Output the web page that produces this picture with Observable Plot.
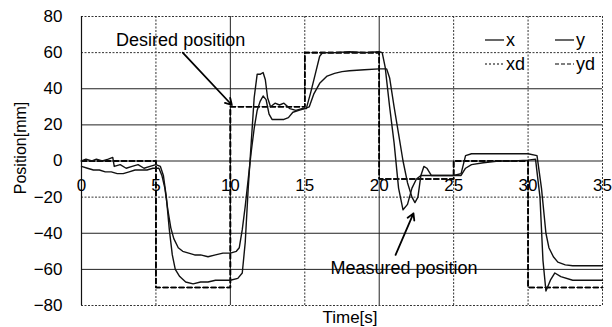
<!DOCTYPE html>
<html>
<head>
<meta charset="utf-8">
<script src="https://cdn.jsdelivr.net/npm/d3@7"></script>
<script src="https://cdn.jsdelivr.net/npm/@observablehq/plot@0.6"></script>
<style>
  html, body { margin: 0; padding: 0; background: #fff; }
  #wrap { position: relative; width: 612px; height: 327px; font-family: "Liberation Sans", Arial, sans-serif; }
  #legend { position: absolute; left: 0; top: 0; width: 612px; height: 327px; pointer-events: none; }
</style>
</head>
<body>
<div id="wrap"></div>
<script>
// ---- data ----
const xTicks = [0, 5, 10, 15, 20, 25, 30, 35];
const yTicks = [-80, -60, -40, -20, 0, 20, 40, 60, 80];
const yGridSolid = [40, 20, 0, -40, -60];
const yGridDotted = [80, 60, -20, -80];
const xGridSolid = [10, 20];
const xGridDotted = [5, 15, 25, 30, 35];

// measured x
const tX = [0,0.3,0.7,1.0,1.4,1.8,2.1,2.2,2.6,3.0,3.4,3.8,4.2,4.6,5.0,5.3,5.5,5.7,5.9,6.1,6.3,6.6,7.0,7.5,8.0,8.5,9.0,9.5,10.0,10.5,10.8,11.0,11.2,11.4,11.6,11.8,12.0,12.2,12.35,12.5,12.7,13.0,13.3,13.6,14.0,14.4,14.8,15.1,15.4,15.7,16.0,16.2,17,18,19,20,20.2,20.4,20.7,21.0,21.3,21.6,21.9,22.2,22.5,22.8,23.3,24,25,25.5,25.8,26.2,27,28,29,30,30.5,30.8,31.0,31.2,31.5,31.8,32.2,33,34,35];
const vX = [0,1,0,1,0,1,2,-3,-2,-4,-3,-2,-4,-3,-2,-3,-8,-20,-38,-52,-60,-64,-67,-68,-67,-67,-66,-66,-66,-65,-62,-45,-15,10,35,48,48,49,45,35,30,32,31,32,29,28,29,29,38,48,58,60,60,60.5,60,60.5,60,52,30,10,-15,-27,-24,-15,-10,-8,-8,-8,-8,-8,-4,-2,-1,0,0,0.5,1,-20,-55,-72,-66,-62,-64,-66,-66,-66];

// measured y
const tY = [0,0.4,0.8,1.2,1.6,2.0,2.4,2.8,3.2,3.6,4.0,4.4,4.8,5.2,5.4,5.6,5.8,6.0,6.2,6.5,6.8,7.2,7.6,8.0,8.5,9.0,9.5,10.0,10.4,10.6,10.8,11.0,11.2,11.4,11.6,11.8,12.0,12.2,12.4,12.6,12.8,13.2,13.6,13.9,14.2,14.6,15.0,15.3,15.6,16.0,16.5,17.0,17.5,18.0,19.0,20.0,20.5,20.7,21.0,21.3,21.6,21.9,22.2,22.4,22.6,22.8,23.0,23.2,23.5,24,25,25.5,25.8,26.2,27,28,29,30,30.6,30.9,31.2,31.4,31.7,32.0,32.5,33,34,35];
const vY = [-3,-4,-5,-5,-6,-6,-7,-7,-6,-5,-5,-5,-4,-4,-8,-15,-27,-37,-43,-48,-50,-51,-52,-52,-53,-52,-51,-51,-50,-48,-38,-25,-10,5,18,28,33,36,34,26,23,23,23,24,27,28,29,30,37,43,47,48.5,49.5,50,50.5,51,51,46,30,15,0,-12,-20,-23,-20,-8,-3,-4,-8,-8,-8,-7,3,4,4,4,4,4,3,-15,-40,-48,-53,-56,-57.5,-58,-58,-58];

// desired (step) trajectories
const tD = [0, 5, 10, 15, 20, 25, 30, 35];
const xd = [0, -70, 30, 60, -10, 0, -70, -70];
const yd = [0, -70, 30, 60, -10, 0, -70, -70];

// annotations: text position and arrow (data units)
const annLabels = ["Desired position", "Measured position"];
const annTextX = [6.66, 21.67];
const annTextY = [67, -59.3];
const annX1 = [6.8, 21.1];
const annY1 = [60, -52];
const annX2 = [10.1, 22.3];
const annY2 = [31, -29];

const legendLabels = ["x", "y", "xd", "yd"];

// ---- build tables ----
const serX = tX.map((t, i) => ({t, v: vX[i]}));
const serY = tY.map((t, i) => ({t, v: vY[i]}));
const serXd = tD.map((t, i) => ({t, v: xd[i]}));
const serYd = tD.map((t, i) => ({t, v: yd[i]}));
const tickRows = xTicks.map(t => ({t, v: 0, label: String(t)}));
const ann = annLabels.map((label, i) => ({label, tx: annTextX[i], ty: annTextY[i], x1: annX1[i], y1: annY1[i], x2: annX2[i], y2: annY2[i]}));

const font = "'Liberation Sans', Arial, sans-serif";

const chart = Plot.plot({
  width: 612,
  height: 327,
  marginLeft: 81,
  marginRight: 10,
  marginTop: 16,
  marginBottom: 22,
  style: {fontFamily: font, fontSize: "17px", background: "#fff", color: "#000"},
  x: {domain: [0, 35], axis: null},
  y: {domain: [-80, 80], axis: null},
  marks: [
    Plot.ruleY(yGridSolid, {stroke: "#222", strokeWidth: 1}),
    Plot.ruleY(yGridDotted, {stroke: "#333", strokeWidth: 1, strokeDasharray: "2,1.5"}),
    Plot.ruleX(xGridSolid, {stroke: "#222", strokeWidth: 1}),
    Plot.ruleX(xGridDotted, {stroke: "#333", strokeWidth: 1, strokeDasharray: "2,1.5"}),
    Plot.ruleX([0], {stroke: "#111", strokeWidth: 1.2}),
    Plot.axisY(yTicks, {tickSize: 0, tickPadding: 19, fontSize: 17, label: null}),
    Plot.text(tickRows, {x: "t", y: "v", dy: 25, text: "label", fontSize: 17, fill: "#000"}),
    Plot.text(["Position[mm]"], {frameAnchor: "left", textAnchor: "middle", lineAnchor: "middle", rotate: -90, dx: -61, dy: -13, fontSize: 16, fill: "#000"}),
    Plot.text(["Time[s]"], {frameAnchor: "bottom", lineAnchor: "middle", dy: 12, dx: 8, fontSize: 17, fill: "#000"}),
    Plot.line(serYd, {x: "t", y: "v", curve: "step-after", stroke: "#000", strokeWidth: 1.6, strokeDasharray: "5,3"}),
    Plot.line(serXd, {x: "t", y: "v", curve: "step-after", stroke: "#000", strokeWidth: 1.6, strokeDasharray: "5,3"}),
    Plot.line(serY, {x: "t", y: "v", stroke: "#111", strokeWidth: 1.4}),
    Plot.line(serX, {x: "t", y: "v", stroke: "#111", strokeWidth: 1.4}),
    Plot.arrow(ann, {x1: "x1", y1: "y1", x2: "x2", y2: "y2", stroke: "#000", strokeWidth: 1.8, headLength: 6, bend: 0}),
    Plot.text(ann, {x: "tx", y: "ty", text: "label", fontSize: 18, fill: "#000"}),
  ]
});

const wrap = document.getElementById("wrap");
wrap.appendChild(chart);

// legend overlay (two columns, two rows, top-right inside the frame)
const ns = "http://www.w3.org/2000/svg";
const leg = document.createElementNS(ns, "svg");
leg.setAttribute("id", "legend");
leg.setAttribute("width", 612);
leg.setAttribute("height", 327);
const cols = [485, 555];
const rows = [40, 64];
const dashes = [null, null, "2,2", "4,2"];
legendLabels.forEach((lab, i) => {
  const cx = cols[i % 2], cy = rows[Math.floor(i / 2)];
  const ln = document.createElementNS(ns, "line");
  ln.setAttribute("x1", cx); ln.setAttribute("x2", cx + 19);
  ln.setAttribute("y1", cy); ln.setAttribute("y2", cy);
  ln.setAttribute("stroke", "#000"); ln.setAttribute("stroke-width", 1.2);
  if (dashes[i]) ln.setAttribute("stroke-dasharray", dashes[i]);
  leg.appendChild(ln);
  const tx = document.createElementNS(ns, "text");
  tx.setAttribute("x", cx + 21); tx.setAttribute("y", cy);
  tx.setAttribute("dy", "0.35em");
  tx.setAttribute("font-family", font);
  tx.setAttribute("font-size", 18);
  tx.textContent = lab;
  leg.appendChild(tx);
});
wrap.appendChild(leg);
</script>
</body>
</html>
